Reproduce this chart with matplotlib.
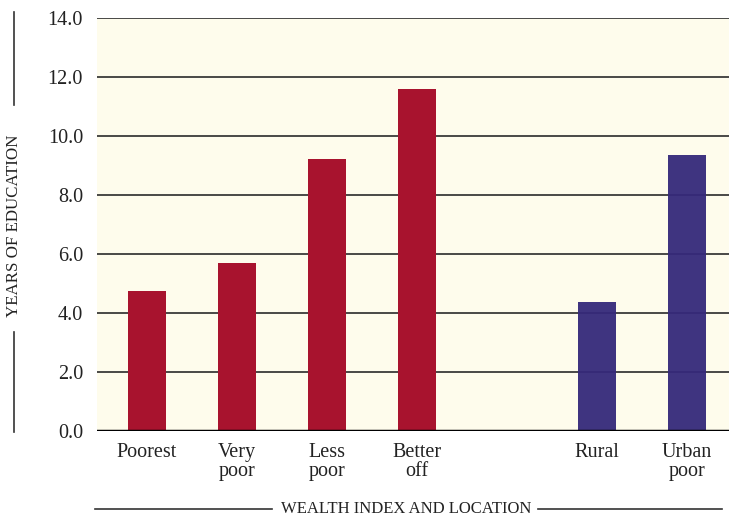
import matplotlib
matplotlib.use("Agg")
import matplotlib.pyplot as plt
from matplotlib.lines import Line2D

# Data
categories = ["Poorest", "Very\npoor", "Less\npoor", "Better\noff", "Rural", "Urban\npoor"]
positions = [0, 1, 2, 3, 5, 6]
years = [4.75, 5.7, 9.22, 11.6, 4.37, 9.36]
groups = ["wealth", "wealth", "wealth", "wealth", "location", "location"]
y_ticks = [0, 2, 4, 6, 8, 10, 12, 14]

colors = {"wealth": "#A8132E", "location": "#35297A"}
alphas = {"wealth": 1.0, "location": 0.95}

plt.rcParams['font.family'] = ['Liberation Serif', 'DejaVu Serif']

fig = plt.figure(figsize=(7.29, 5.19), dpi=100)
ax = fig.add_axes([0.133, 0.1696, 0.867, 0.7957])
ax.set_facecolor("#FEFCEC")

for x, v, g in zip(positions, years, groups):
    ax.bar(x, v, width=0.42, color=colors[g], alpha=alphas[g], zorder=3)

ax.set_ylim(0, 14)
ax.set_xlim(-0.556, 6.47)
ax.set_yticks(y_ticks)
ax.set_yticklabels([f"{t:.1f}" for t in y_ticks], fontsize=14.5, color="#222222")
ax.set_xticks(positions)
ax.set_xticklabels(categories, fontsize=14.5, color="#222222", linespacing=1.0, va="top")
ax.tick_params(length=0, pad=10)
ax.tick_params(axis="x", pad=9)

for t in y_ticks[1:]:
    ax.axhline(t, color="#2a2a2a", linewidth=1.2, zorder=2)
ax.axhline(0, color="black", linewidth=2.5, zorder=4)

for s in ax.spines.values():
    s.set_visible(False)

# y label with rules above and below
fig.text(0.019, 1 - 226 / 519, "YEARS OF EDUCATION", rotation=90, ha="center", va="center",
         fontsize=12.2, color="#222222")
fig.add_artist(Line2D([0.019, 0.019], [1 - 12 / 519, 1 - 105 / 519], color="#333333", lw=1.2))
fig.add_artist(Line2D([0.019, 0.019], [1 - 332 / 519, 1 - 432 / 519], color="#333333", lw=1.2))

# x label with rules left and right
fig.text(406 / 729, 1 - 509 / 519, "WEALTH INDEX AND LOCATION", ha="center", va="center",
         fontsize=12, color="#222222")
fig.add_artist(Line2D([95 / 729, 272 / 729], [1 - 509 / 519] * 2, color="#333333", lw=1.2))
fig.add_artist(Line2D([538 / 729, 722 / 729], [1 - 509 / 519] * 2, color="#333333", lw=1.2))

fig.savefig("out.png", dpi=100)
